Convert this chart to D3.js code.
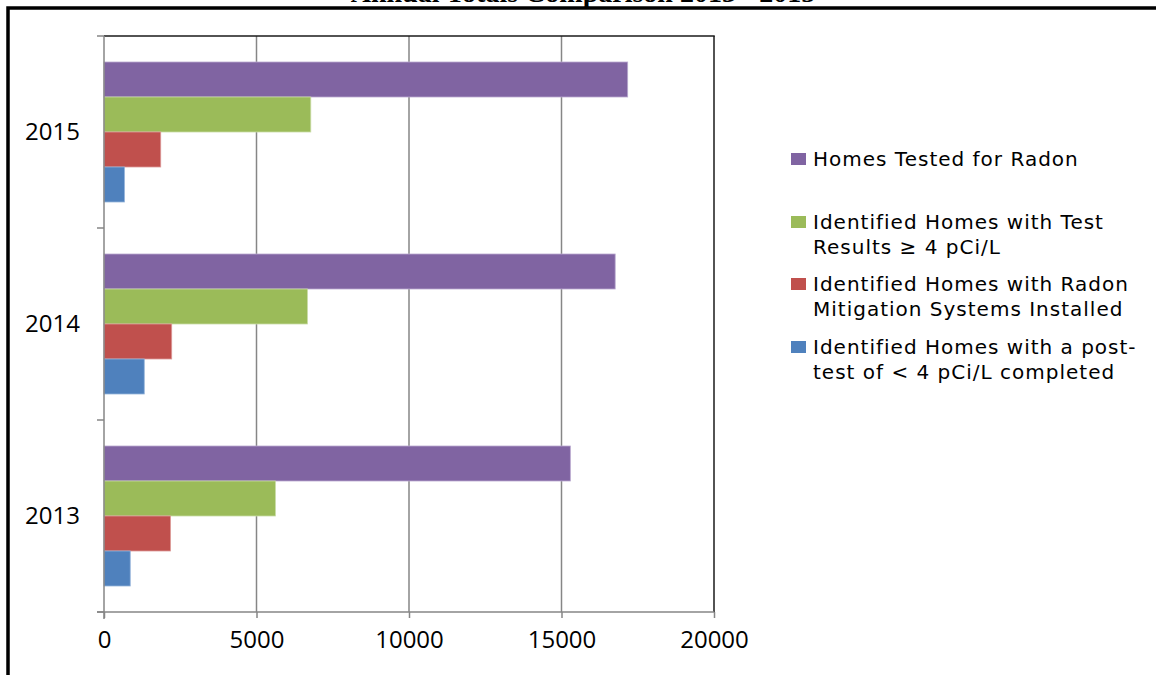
<!DOCTYPE html>
<html>
<head>
<meta charset="utf-8">
<script src="https://cdn.jsdelivr.net/npm/d3@7"></script>
<style>
  html, body { margin: 0; padding: 0; background: #fff; }
  svg { display: block; }
</style>
</head>
<body>
<svg id="chart" width="1156" height="675"></svg>
<script>
// ---- data ----
const years = ["2015", "2014", "2013"];
const seriesNames = [
  "Homes Tested for Radon",
  "Identified Homes with Test Results ≥ 4 pCi/L",
  "Identified Homes with Radon Mitigation Systems Installed",
  "Identified Homes with a post-test of < 4 pCi/L completed"
];
const legendLines = [
  ["Homes Tested for Radon"],
  ["Identified Homes with Test", "Results ≥ 4 pCi/L"],
  ["Identified Homes with Radon", "Mitigation Systems Installed"],
  ["Identified Homes with a post-", "test of < 4 pCi/L completed"]
];
const seriesColors = ["#8064A2", "#9BBB59", "#C0504D", "#4F81BD"];
const seriesStroke = ["#B9A9CF", "#C9DBA6", "#DC9A98", "#95B3DA"];
// values per series, in order of years (2015, 2014, 2013)
const homesTested = [17170, 16760, 15290];
const testResultsHigh = [6780, 6670, 5620];
const mitigationInstalled = [1860, 2220, 2180];
const postTestLow = [670, 1320, 860];
const xTicks = [0, 5000, 10000, 15000, 20000];
const titleText = "Annual Totals Comparison 2013 - 2015";

const seriesValues = [homesTested, testResultsHigh, mitigationInstalled, postTestLow];

// ---- layout ----
const svg = d3.select("#chart");
const plot = { left: 104, right: 714, top: 36, bottom: 612 };

// title (clipped at the top edge, as in the reference)
svg.append("text")
  .attr("x", 583).attr("y", 1.5)
  .attr("text-anchor", "middle")
  .attr("font-family", "'Liberation Serif', 'Times New Roman', serif")
  .attr("font-weight", "bold")
  .attr("font-size", 28)
  .attr("fill", "#000")
  .text(titleText);

// outer frame (thick black border)
svg.append("rect")
  .attr("x", 8).attr("y", 8)
  .attr("width", 1200).attr("height", 800)
  .attr("fill", "none").attr("stroke", "#000").attr("stroke-width", 3.5);

const x = d3.scaleLinear().domain([0, 20000]).range([plot.left, plot.right]);
const y = d3.scaleBand().domain(years).range([plot.top, plot.bottom]).paddingInner(0).paddingOuter(0);
const yInner = d3.scaleBand().domain(d3.range(seriesNames.length))
  .range([0, y.bandwidth()]).paddingOuter(26 / 35).paddingInner(0);

// gridlines
svg.append("g").selectAll("line")
  .data(xTicks.slice(1, -1))
  .join("line")
  .attr("x1", d => x(d)).attr("x2", d => x(d))
  .attr("y1", plot.top).attr("y2", plot.bottom)
  .attr("stroke", "#868686").attr("stroke-width", 1.5);

// plot border top/right (dark)
svg.append("line")
  .attr("x1", plot.left).attr("x2", plot.right + 0.75)
  .attr("y1", plot.top).attr("y2", plot.top)
  .attr("stroke", "#1a1a1a").attr("stroke-width", 1.5);
svg.append("line")
  .attr("x1", plot.right).attr("x2", plot.right)
  .attr("y1", plot.top).attr("y2", plot.bottom)
  .attr("stroke", "#1a1a1a").attr("stroke-width", 1.5);

// bars
const groups = svg.append("g").selectAll("g")
  .data(years)
  .join("g")
  .attr("transform", d => `translate(0,${y(d)})`);

groups.selectAll("rect")
  .data((yr, i) => seriesValues.map((vals, s) => ({ s, v: vals[i] })))
  .join("rect")
  .attr("x", x(0))
  .attr("y", d => yInner(d.s))
  .attr("width", d => x(d.v) - x(0))
  .attr("height", yInner.bandwidth())
  .attr("fill", d => seriesColors[d.s])
  .attr("stroke", d => seriesStroke[d.s])
  .attr("stroke-width", 0.8);

// x axis
const xAxis = d3.axisBottom(x).tickValues(xTicks).tickSize(6).tickPadding(13).tickFormat(d3.format("d"));
const gx = svg.append("g").attr("transform", `translate(0,${plot.bottom})`).call(xAxis);
gx.select(".domain").attr("stroke", "#868686").attr("stroke-width", 1.5)
  .attr("d", `M${plot.left - 7},0H${plot.right}`);
gx.selectAll(".tick line").attr("stroke", "#868686").attr("stroke-width", 1.5);
gx.selectAll(".tick text")
  .attr("font-family", "'Open Sans', sans-serif")
  .attr("font-size", 24)
  .attr("fill", "#000");

// y axis
const yAxisScale = d3.scalePoint().domain(years).range([plot.top + y.bandwidth() / 2, plot.bottom - y.bandwidth() / 2]);
const gy = svg.append("g").attr("transform", `translate(${plot.left},0)`);
gy.append("line")
  .attr("x1", 0).attr("x2", 0).attr("y1", plot.top).attr("y2", plot.bottom + 7)
  .attr("stroke", "#868686").attr("stroke-width", 1.5);
const bandEdges = [plot.top, ...years.map(d => y(d) + y.bandwidth())];
gy.selectAll("line.tk").data(bandEdges).join("line").attr("class", "tk")
  .attr("x1", -7).attr("x2", 0).attr("y1", d => d).attr("y2", d => d)
  .attr("stroke", "#868686").attr("stroke-width", 1.5);
gy.selectAll("text").data(years).join("text")
  .attr("x", -24).attr("y", d => yAxisScale(d))
  .attr("dy", "0.35em")
  .attr("text-anchor", "end")
  .attr("font-family", "'Open Sans', sans-serif")
  .attr("font-size", 24)
  .attr("fill", "#000")
  .text(d => d);

// legend
const legendTop = [159, 222, 284, 347];
const lg = svg.append("g");
legendLines.forEach((lines, i) => {
  lg.append("rect")
    .attr("x", 791).attr("y", legendTop[i] - 6)
    .attr("width", 15).attr("height", 12)
    .attr("fill", seriesColors[i]);
  lines.forEach((ln, j) => {
    lg.append("text")
      .attr("x", 813).attr("y", legendTop[i] + j * 25)
      .attr("dy", "0.36em")
      .attr("font-family", "'DejaVu Sans', sans-serif")
      .attr("font-size", 20)
      .attr("letter-spacing", 1)
      .attr("fill", "#000")
      .text(ln);
  });
});
</script>
</body>
</html>
